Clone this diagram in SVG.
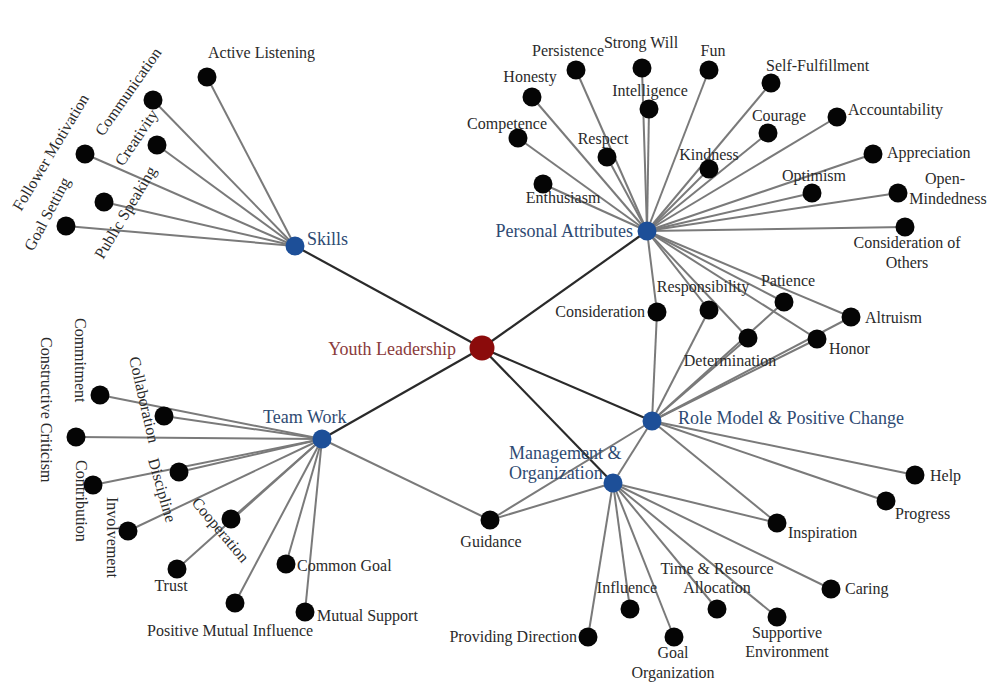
<svg xmlns="http://www.w3.org/2000/svg" width="991" height="683" viewBox="0 0 991 683">
<style>
text{font-family:"Liberation Serif","Times New Roman",serif;font-size:16px;fill:#2a2a2a}
.hub text,.hl{font-size:18px;fill:#2e4a72}
.cl{font-size:18px;fill:#8a3b3b}
.e line{stroke:#7a7a7a;stroke-width:2}
.e line.m{stroke:#2a2a2a;stroke-width:2.2}
.leaf{fill:#050505}
.hubc{fill:#1d4f98}
.mid{text-anchor:middle}
.end{text-anchor:end}
</style>
<rect width="991" height="683" fill="#fff"/>
<g id="connectors" class="e">
<line class="m" x1="482" y1="348" x2="295" y2="246"/>
<line class="m" x1="482" y1="348" x2="647" y2="231"/>
<line class="m" x1="482" y1="348" x2="322" y2="439"/>
<line class="m" x1="482" y1="348" x2="652" y2="421"/>
<line class="m" x1="482" y1="348" x2="613" y2="483"/>
<line x1="295" y1="246" x2="207" y2="77"/>
<line x1="295" y1="246" x2="153" y2="100"/>
<line x1="295" y1="246" x2="157" y2="145"/>
<line x1="295" y1="246" x2="85" y2="154"/>
<line x1="295" y1="246" x2="104" y2="202"/>
<line x1="295" y1="246" x2="66" y2="226"/>
<line x1="647" y1="231" x2="576" y2="70"/>
<line x1="647" y1="231" x2="642" y2="68"/>
<line x1="647" y1="231" x2="709" y2="70"/>
<line x1="647" y1="231" x2="532" y2="97"/>
<line x1="647" y1="231" x2="649" y2="109"/>
<line x1="647" y1="231" x2="518" y2="138"/>
<line x1="647" y1="231" x2="607" y2="157"/>
<line x1="647" y1="231" x2="543" y2="184"/>
<line x1="647" y1="231" x2="709" y2="169"/>
<line x1="647" y1="231" x2="771" y2="83"/>
<line x1="647" y1="231" x2="768" y2="133"/>
<line x1="647" y1="231" x2="837" y2="117"/>
<line x1="647" y1="231" x2="873" y2="154"/>
<line x1="647" y1="231" x2="812" y2="193"/>
<line x1="647" y1="231" x2="898" y2="193"/>
<line x1="647" y1="231" x2="905" y2="227"/>
<line x1="647" y1="231" x2="657" y2="312"/>
<line x1="647" y1="231" x2="709" y2="310"/>
<line x1="647" y1="231" x2="748" y2="338"/>
<line x1="647" y1="231" x2="784" y2="302"/>
<line x1="647" y1="231" x2="817" y2="339"/>
<line x1="647" y1="231" x2="851" y2="317"/>
<line x1="652" y1="421" x2="657" y2="312"/>
<line x1="652" y1="421" x2="709" y2="310"/>
<line x1="652" y1="421" x2="748" y2="338"/>
<line x1="652" y1="421" x2="784" y2="302"/>
<line x1="652" y1="421" x2="817" y2="339"/>
<line x1="652" y1="421" x2="851" y2="317"/>
<line x1="652" y1="421" x2="915" y2="475"/>
<line x1="652" y1="421" x2="886" y2="501"/>
<line x1="652" y1="421" x2="777" y2="523"/>
<line x1="652" y1="421" x2="490" y2="520"/>
<line x1="652" y1="421" x2="613" y2="483"/>
<line x1="613" y1="483" x2="490" y2="520"/>
<line x1="613" y1="483" x2="777" y2="523"/>
<line x1="613" y1="483" x2="831" y2="589"/>
<line x1="613" y1="483" x2="777" y2="617"/>
<line x1="613" y1="483" x2="717" y2="609"/>
<line x1="613" y1="483" x2="674" y2="637"/>
<line x1="613" y1="483" x2="630" y2="609"/>
<line x1="613" y1="483" x2="588" y2="637"/>
<line x1="322" y1="439" x2="490" y2="520"/>
<line x1="322" y1="439" x2="100" y2="395"/>
<line x1="322" y1="439" x2="164" y2="416"/>
<line x1="322" y1="439" x2="76" y2="437"/>
<line x1="322" y1="439" x2="179" y2="472"/>
<line x1="322" y1="439" x2="93" y2="485"/>
<line x1="322" y1="439" x2="128" y2="531"/>
<line x1="322" y1="439" x2="231" y2="519"/>
<line x1="322" y1="439" x2="177" y2="569"/>
<line x1="322" y1="439" x2="235" y2="603"/>
<line x1="322" y1="439" x2="286" y2="564"/>
<line x1="322" y1="439" x2="305" y2="612"/>
</g>
<g id="n-youth"><circle cx="482" cy="348" r="12.5" fill="#8b0b0b"/><text class="cl end" x="456" y="355">Youth Leadership</text></g>
<g id="n-skills" class="hub"><circle class="hubc" cx="295" cy="246" r="9.5"/><text x="307" y="245">Skills</text></g>
<g id="n-personal" class="hub"><circle class="hubc" cx="647" cy="231" r="9.5"/><text class="end" x="633" y="237">Personal Attributes</text></g>
<g id="n-teamwork" class="hub"><circle class="hubc" cx="322" cy="439" r="9.5"/><text x="263" y="423">Team Work</text></g>
<g id="n-rolemodel" class="hub"><circle class="hubc" cx="652" cy="421" r="9.5"/><text x="678" y="424">Role Model &amp; Positive Change</text></g>
<g id="n-management" class="hub"><circle class="hubc" cx="613" cy="483" r="9.5"/><text x="509" y="459">Management &amp;</text><text x="509" y="479">Organization</text></g>

<g id="n-active-listening"><circle class="leaf" cx="207" cy="77" r="9.5"/><text x="208" y="58">Active Listening</text></g>
<g id="n-communication"><circle class="leaf" cx="153" cy="100" r="9.5"/><text transform="translate(103,137) rotate(-55)">Communication</text></g>
<g id="n-creativity"><circle class="leaf" cx="157" cy="145" r="9.5"/><text transform="translate(123,167) rotate(-56)">Creativity</text></g>
<g id="n-follower-motivation"><circle class="leaf" cx="85" cy="154" r="9.5"/><text transform="translate(21,212) rotate(-59)">Follower Motivation</text></g>
<g id="n-public-speaking"><circle class="leaf" cx="104" cy="202" r="9.5"/><text transform="translate(103,260) rotate(-59)">Public Speaking</text></g>
<g id="n-goal-setting"><circle class="leaf" cx="66" cy="226" r="9.5"/><text transform="translate(33,252) rotate(-62)">Goal Setting</text></g>

<g id="n-persistence"><circle class="leaf" cx="576" cy="70" r="9.5"/><text class="mid" x="568" y="56">Persistence</text></g>
<g id="n-strong-will"><circle class="leaf" cx="642" cy="68" r="9.5"/><text class="mid" x="641" y="48">Strong Will</text></g>
<g id="n-fun"><circle class="leaf" cx="709" cy="70" r="9.5"/><text class="mid" x="713" y="56">Fun</text></g>
<g id="n-honesty"><circle class="leaf" cx="532" cy="97" r="9.5"/><text class="mid" x="530" y="82">Honesty</text></g>
<g id="n-intelligence"><circle class="leaf" cx="649" cy="109" r="9.5"/><text class="mid" x="650" y="96">Intelligence</text></g>
<g id="n-competence"><circle class="leaf" cx="518" cy="138" r="9.5"/><text class="mid" x="507" y="129">Competence</text></g>
<g id="n-respect"><circle class="leaf" cx="607" cy="157" r="9.5"/><text class="mid" x="603" y="144">Respect</text></g>
<g id="n-enthusiasm"><circle class="leaf" cx="543" cy="184" r="9.5"/><text class="mid" x="563" y="203">Enthusiasm</text></g>
<g id="n-kindness"><circle class="leaf" cx="709" cy="169" r="9.5"/><text class="mid" x="709" y="160">Kindness</text></g>
<g id="n-self-fulfillment"><circle class="leaf" cx="771" cy="83" r="9.5"/><text x="766" y="71">Self-Fulfillment</text></g>
<g id="n-courage"><circle class="leaf" cx="768" cy="133" r="9.5"/><text class="mid" x="779" y="121">Courage</text></g>
<g id="n-accountability"><circle class="leaf" cx="837" cy="117" r="9.5"/><text x="848" y="115">Accountability</text></g>
<g id="n-appreciation"><circle class="leaf" cx="873" cy="154" r="9.5"/><text x="887" y="158">Appreciation</text></g>
<g id="n-optimism"><circle class="leaf" cx="812" cy="193" r="9.5"/><text class="mid" x="814" y="181">Optimism</text></g>
<g id="n-open-mindedness"><circle class="leaf" cx="898" cy="193" r="9.5"/><text class="mid" x="945" y="184">Open-</text><text class="mid" x="948" y="204">Mindedness</text></g>
<g id="n-consideration-of-others"><circle class="leaf" cx="905" cy="227" r="9.5"/><text class="mid" x="907" y="248">Consideration of</text><text class="mid" x="907" y="268">Others</text></g>
<g id="n-consideration"><circle class="leaf" cx="657" cy="312" r="9.5"/><text class="end" x="645" y="317">Consideration</text></g>
<g id="n-responsibility"><circle class="leaf" cx="709" cy="310" r="9.5"/><text class="mid" x="703" y="292">Responsibility</text></g>
<g id="n-patience"><circle class="leaf" cx="784" cy="302" r="9.5"/><text class="mid" x="788" y="286">Patience</text></g>
<g id="n-determination"><circle class="leaf" cx="748" cy="338" r="9.5"/><text class="mid" x="730" y="366">Determination</text></g>
<g id="n-honor"><circle class="leaf" cx="817" cy="339" r="9.5"/><text x="829" y="354">Honor</text></g>
<g id="n-altruism"><circle class="leaf" cx="851" cy="317" r="9.5"/><text x="865" y="323">Altruism</text></g>

<g id="n-help"><circle class="leaf" cx="915" cy="475" r="9.5"/><text x="930" y="481">Help</text></g>
<g id="n-progress"><circle class="leaf" cx="886" cy="501" r="9.5"/><text x="895" y="519">Progress</text></g>
<g id="n-inspiration"><circle class="leaf" cx="777" cy="523" r="9.5"/><text x="788" y="538">Inspiration</text></g>
<g id="n-guidance"><circle class="leaf" cx="490" cy="520" r="9.5"/><text class="mid" x="491" y="547">Guidance</text></g>
<g id="n-caring"><circle class="leaf" cx="831" cy="589" r="9.5"/><text x="845" y="594">Caring</text></g>
<g id="n-supportive-environment"><circle class="leaf" cx="777" cy="617" r="9.5"/><text class="mid" x="787" y="638">Supportive</text><text class="mid" x="787" y="657">Environment</text></g>
<g id="n-time-resource"><circle class="leaf" cx="717" cy="609" r="9.5"/><text class="mid" x="717" y="574">Time &amp; Resource</text><text class="mid" x="717" y="593">Allocation</text></g>
<g id="n-goal-organization"><circle class="leaf" cx="674" cy="637" r="9.5"/><text class="mid" x="673" y="658">Goal</text><text class="mid" x="673" y="678">Organization</text></g>
<g id="n-influence"><circle class="leaf" cx="630" cy="609" r="9.5"/><text class="mid" x="627" y="593">Influence</text></g>
<g id="n-providing-direction"><circle class="leaf" cx="588" cy="637" r="9.5"/><text class="end" x="577" y="642">Providing Direction</text></g>

<g id="n-commitment"><circle class="leaf" cx="100" cy="395" r="9.5"/><text transform="translate(75,318) rotate(90)">Commitment</text></g>
<g id="n-collaboration"><circle class="leaf" cx="164" cy="416" r="9.5"/><text transform="translate(129,358) rotate(77)">Collaboration</text></g>
<g id="n-constructive-criticism"><circle class="leaf" cx="76" cy="437" r="9.5"/><text transform="translate(41,337) rotate(90)">Constructive Criticism</text></g>
<g id="n-discipline"><circle class="leaf" cx="179" cy="472" r="9.5"/><text transform="translate(148,460) rotate(74)">Discipline</text></g>
<g id="n-contribution"><circle class="leaf" cx="93" cy="485" r="9.5"/><text transform="translate(76,460) rotate(90)">Contribution</text></g>
<g id="n-involvement"><circle class="leaf" cx="128" cy="531" r="9.5"/><text transform="translate(107,497) rotate(90)">Involvement</text></g>
<g id="n-cooperation"><circle class="leaf" cx="231" cy="519" r="9.5"/><text transform="translate(191,503) rotate(50)">Cooperation</text></g>
<g id="n-trust"><circle class="leaf" cx="177" cy="569" r="9.5"/><text class="mid" x="171" y="591">Trust</text></g>
<g id="n-positive-mutual-influence"><circle class="leaf" cx="235" cy="603" r="9.5"/><text x="147" y="636">Positive Mutual Influence</text></g>
<g id="n-common-goal"><circle class="leaf" cx="286" cy="564" r="9.5"/><text x="297" y="571">Common Goal</text></g>
<g id="n-mutual-support"><circle class="leaf" cx="305" cy="612" r="9.5"/><text x="317" y="621">Mutual Support</text></g>
</svg>
